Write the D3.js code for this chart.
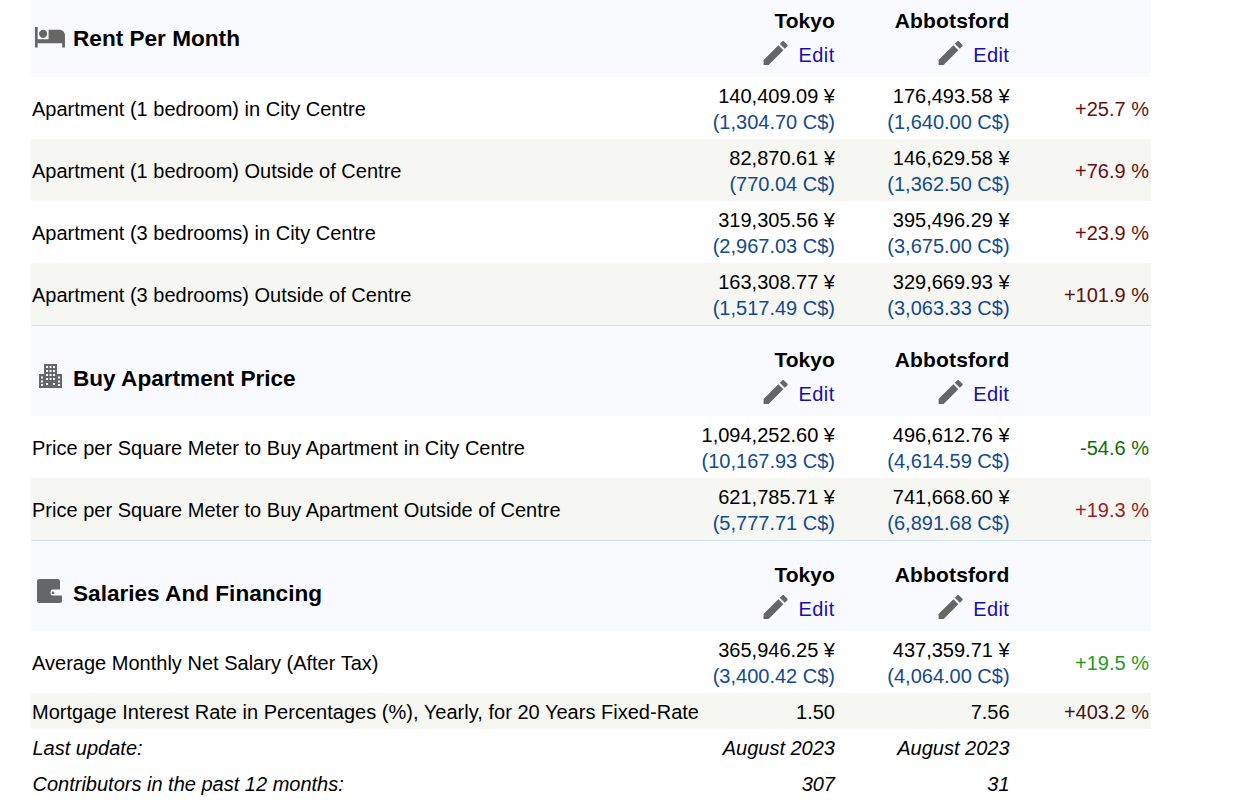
<!DOCTYPE html>
<html><head><meta charset="utf-8">
<script src="https://cdn.jsdelivr.net/npm/d3@7"></script>
<style>html,body{margin:0;padding:0;background:#fff;overflow:hidden}svg{display:block}text{font-family:"Liberation Sans",Arial,sans-serif}</style>
</head><body><svg id="c" width="1242" height="810"></svg>
<script>
const cities = ["Tokyo", "Abbotsford"];
const editLabel = "Edit";
const sections = ["Rent Per Month", "Buy Apartment Price", "Salaries And Financing"];
const rentLabels = ["Apartment (1 bedroom) in City Centre","Apartment (1 bedroom) Outside of Centre","Apartment (3 bedrooms) in City Centre","Apartment (3 bedrooms) Outside of Centre"];
const rentTokyo = ["140,409.09 ¥","82,870.61 ¥","319,305.56 ¥","163,308.77 ¥"];
const rentTokyoCad = ["(1,304.70 C$)","(770.04 C$)","(2,967.03 C$)","(1,517.49 C$)"];
const rentAbb = ["176,493.58 ¥","146,629.58 ¥","395,496.29 ¥","329,669.93 ¥"];
const rentAbbCad = ["(1,640.00 C$)","(1,362.50 C$)","(3,675.00 C$)","(3,063.33 C$)"];
const rentDiff = ["+25.7 %","+76.9 %","+23.9 %","+101.9 %"];
const rentDiffColor = ["#6b0f0f","#6b0f0f","#6b0f0f","#5c1111"];
const buyLabels = ["Price per Square Meter to Buy Apartment in City Centre","Price per Square Meter to Buy Apartment Outside of Centre"];
const buyTokyo = ["1,094,252.60 ¥","621,785.71 ¥"];
const buyTokyoCad = ["(10,167.93 C$)","(5,777.71 C$)"];
const buyAbb = ["496,612.76 ¥","741,668.60 ¥"];
const buyAbbCad = ["(4,614.59 C$)","(6,891.68 C$)"];
const buyDiff = ["-54.6 %","+19.3 %"];
const buyDiffColor = ["#0f6b0f","#9c2020"];
const salaryLabel = "Average Monthly Net Salary (After Tax)";
const salaryVals = ["365,946.25 ¥","(3,400.42 C$)","437,359.71 ¥","(4,064.00 C$)","+19.5 %"];
const salaryDiffColor = "#1f9c1f";
const mortgage = ["Mortgage Interest Rate in Percentages (%), Yearly, for 20 Years Fixed-Rate","1.50","7.56","+403.2 %"];
const mortgageDiffColor = "#4a1010";
const lastUpdate = ["Last update:","August 2023","August 2023"];
const contributors = ["Contributors in the past 12 months:","307","31"];
const sectionTops = [-13, 326, 541];
const sectionBottoms = [77, 416, 631];
const rentRowTops = [77,139,201,263];
const buyRowTops = [416,478];

const svg = d3.select("#c");
const L=31,R=1151,X1=835,X2=1009.6,X3=1149,TX=32;
function rect(y0,y1,c){svg.append("rect").attr("x",L).attr("y",y0).attr("width",R-L).attr("height",y1-y0).attr("fill",c);}
function text(x,y0,s,o={}){return svg.append("text").attr("x",x).attr("y",y0).text(s)
 .attr("font-size",o.size||20).attr("fill",o.fill||"#000").attr("text-anchor",o.anchor||"start")
 .attr("letter-spacing",o.track||0)
 .attr("font-weight",o.bold?"bold":"normal").attr("font-style",o.italic?"italic":"normal");}
const ICON = "#666";
const icons = {
 bed:"M7 13c1.66 0 3-1.34 3-3S8.66 7 7 7s-3 1.34-3 3 1.34 3 3 3zm12-6h-8v7H3V5H1v15h2v-3h18v3h2v-9c0-2.21-1.79-4-4-4z",
 pen:"M3 17.25V21h3.75L17.81 9.94l-3.75-3.75L3 17.25zM20.71 7.04c.39-.39.39-1.02 0-1.41l-2.34-2.34c-.39-.39-1.02-.39-1.41 0l-1.83 1.83 3.75 3.75 1.83-1.83z"
};
function win(x,y,s=2){return `M${x} ${y}h${s}v${s}h${-s}z`;}
let bld="M5 0h13v10h5v14H0V10h5z";
[7,10.5,14].forEach(x=>[2,6,10,14].forEach(y=>{bld+=win(x,y);}));
[2,19].forEach(x=>[12.5,16.5,20].forEach(y=>{bld+=win(x,y);}));
[7,14].forEach(x=>{bld+=win(x,19);});
icons.building=bld;
icons.wallet="M2.5 0h18q2.5 0 2.5 2.5v8h-7.5q-2 0-2 3t2 3H25v5q0 2.5-2.5 2.5h-20q-2.5 0-2.5-2.5V2.5q0-2.5 2.5-2.5zM16 12.6a1.3 1.3 0 1 0 .01 0z";
function icon(name,x,y0,s,base=24){svg.append("path").attr("d",icons[name]).attr("fill",ICON).attr("fill-rule","evenodd").attr("transform",`translate(${x},${y0}) scale(${s/base})`);}
function header(top,bottom,title,ic,iy,dy){
 rect(top,bottom,"#f9faff");
 icon(ic,iy.x,iy.y,iy.s);
 text(73,top+59+dy,title,{bold:1,size:22.6});
 cities.forEach((c,i)=>{
  const x=i?X2:X1;
  text(x-.2,top+41,c,{bold:1,anchor:"end",size:21,track:i?0.15:0});
  text(x-.3,top+75,editLabel,{fill:"#1a0dab",anchor:"end",track:0.4});
  icon("pen",i?934.6:759.6,top+50,32);
 });
}
function row(top,h,label,a,ac,b,bc,d,dc,shade){
 if(shade) rect(top,top+h,"#f6f7f3");
 text(TX,top+39,label,{track:0.01});
 text(X1,top+25.5,a,{anchor:"end"});
 text(X1,top+52,ac,{anchor:"end",fill:"#134a8e"});
 text(X2,top+25.5,b,{anchor:"end"});
 text(X2,top+52,bc,{anchor:"end",fill:"#134a8e"});
 text(X3,top+39,d,{anchor:"end",fill:dc});
}
header(sectionTops[0],sectionBottoms[0],sections[0],"bed",{x:33.6,y:20.2,s:32.7},0);
rentLabels.forEach((l,i)=>row(rentRowTops[i],62,l,rentTokyo[i],rentTokyoCad[i],rentAbb[i],rentAbbCad[i],rentDiff[i],rentDiffColor[i],i%2==1));
header(sectionTops[1],sectionBottoms[1],sections[1],"building",{x:39,y:364,s:24},0.6);
svg.append("rect").attr("x",L).attr("y",325).attr("width",R-L).attr("height",1).attr("fill","#cfe4f3");
buyLabels.forEach((l,i)=>row(buyRowTops[i],62,l,buyTokyo[i],buyTokyoCad[i],buyAbb[i],buyAbbCad[i],buyDiff[i],buyDiffColor[i],i%2==1));
header(sectionTops[2],sectionBottoms[2],sections[2],"wallet",{x:37,y:579,s:24},0.6);
svg.append("rect").attr("x",L).attr("y",540).attr("width",R-L).attr("height",1).attr("fill","#cfe4f3");
row(631,62,salaryLabel,salaryVals[0],salaryVals[1],salaryVals[2],salaryVals[3],salaryVals[4],salaryDiffColor,false);
rect(693,729,"#f6f7f3");
text(TX,719,mortgage[0],{track:0.02});text(X1,719,mortgage[1],{anchor:"end"});text(X2,719,mortgage[2],{anchor:"end"});text(X3,719,mortgage[3],{anchor:"end",fill:mortgageDiffColor});
[[lastUpdate,755],[contributors,791]].forEach(([r,yy])=>{text(TX+.5,yy,r[0],{italic:1});text(X1,yy,r[1],{italic:1,anchor:"end"});text(X2,yy,r[2],{italic:1,anchor:"end"});});
</script></body></html>
